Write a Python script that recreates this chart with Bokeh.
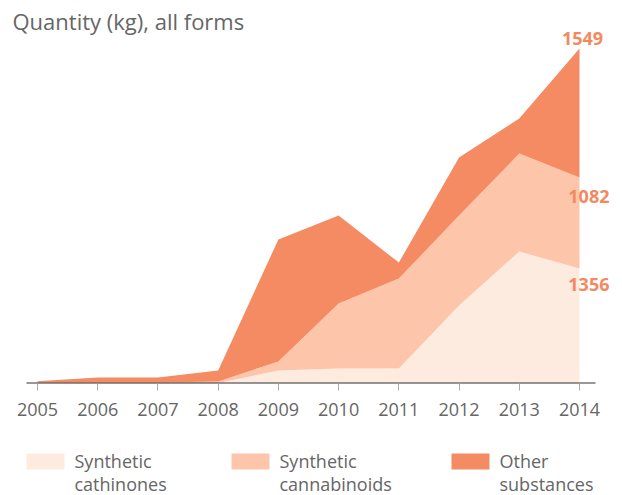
from bokeh.plotting import figure
from bokeh.models import ColumnDataSource, Range1d, FixedTicker, Label
from bokeh.layouts import column
from bokeh.embed import file_html
from bokeh.resources import INLINE
from bokeh.core.properties import value

# ---- data (kg) ----
years = [2005, 2006, 2007, 2008, 2009, 2010, 2011, 2012, 2013, 2014]
cathinones = [0, 0, 0, 2, 60, 69, 69, 361, 610, 532]
cannabinoids = [5, 5, 5, 7, 42, 301, 416, 416, 453, 421]
other = [5, 23, 23, 51, 564, 407, 74, 268, 162, 596]
legend_lines = [["Synthetic", "cathinones"], ["Synthetic", "cannabinoids"], ["Other", "substances"]]
end_labels = ["1356", "1082", "1549"]
colors = ["#fdebe0", "#fdc6ab", "#f48b63"]
label_color = "#f4895f"
title_text = "Quantity (kg), all forms"

FONT = "Open Sans"
W = 622
MAIN_H = 438
FRAME_H = 383
LEG_H = 57
PX_PER_YEAR = 60.222
X0 = 2005 - 37 / PX_PER_YEAR
X1 = 2014 + (W - 579) / PX_PER_YEAR
KG_PER_PX = 1549 / 335.0
TXT_SHIFT = 7  # correction for text baseline placement

src = ColumnDataSource(dict(year=years, cath=cathinones, cann=cannabinoids, oth=other))

p = figure(width=W, height=MAIN_H, output_backend="svg", toolbar_location=None,
           x_range=Range1d(X0, X1), y_range=Range1d(0, FRAME_H * KG_PER_PX),
           y_axis_location=None, min_border_left=0, min_border_right=0,
           min_border_top=0, min_border_bottom=MAIN_H - FRAME_H)
p.outline_line_color = None
p.grid.visible = False

p.varea_stack(["cath", "cann", "oth"], x="year", color=colors, source=src)

# baseline (axis line) spanning slightly beyond first/last year
p.segment(x0=[years[0] - 11 / PX_PER_YEAR], x1=[years[-1] + 16 / PX_PER_YEAR],
          y0=[0], y1=[0], line_color="#333333", line_width=2)

ax = p.xaxis[0]
ax.ticker = FixedTicker(ticks=years)
ax.axis_line_color = None
ax.minor_tick_line_color = None
ax.major_tick_in = 0
ax.major_tick_out = 7
ax.major_tick_line_color = "#aaaaaa"
ax.major_label_text_font = FONT
ax.major_label_text_font_size = "18px"
ax.major_label_text_color = "#666666"
ax.major_label_standoff = 12

# end labels at the 2014 stack tops
tops = []
acc = 0
for s in (cathinones, cannabinoids, other):
    acc += s[-1]
    tops.append(acc)
offsets = [(30, -23, "right"), (30, -26, "right"), (3, 3, "center")]
for t, txt, (xo, yo, al) in zip(tops, end_labels, offsets):
    lab = Label(x=years[-1], y=t, text=txt, text_align=al, text_baseline="alphabetic",
                x_offset=xo, y_offset=yo + TXT_SHIFT, text_font=FONT, text_font_size="18px",
                text_font_style="bold", text_color=label_color)
    p.add_layout(lab)

title = Label(x=12, y=FRAME_H - 27 + TXT_SHIFT, x_units="screen", y_units="screen",
              text=title_text, text_font=FONT, text_font_size="22px", text_color="#666666",
              text_baseline="alphabetic", text_align="left")
p.add_layout(title)

# ---- legend as its own small panel ----
lg = figure(width=W, height=LEG_H, output_backend="svg", toolbar_location=None,
            x_range=Range1d(0, W), y_range=Range1d(LEG_H, 0),
            x_axis_location=None, y_axis_location=None,
            min_border=0, min_border_left=0, min_border_right=0,
            min_border_top=0, min_border_bottom=0)
lg.outline_line_color = None
lg.grid.visible = False

lefts = [26, 231, 451]
sw = 38
lg.quad(left=lefts, right=[l + sw for l in lefts], top=[15] * 3, bottom=[31] * 3,
        color=colors, line_color=None)
tx, ty, tt = [], [], []
for l, lines in zip(lefts, legend_lines):
    for j, ln in enumerate(lines):
        tx.append(l + 48)
        ty.append(29 - TXT_SHIFT + 23 * j)
        tt.append(ln)
lg.text(x=tx, y=ty, text=tt, text_font=value(FONT), text_font_size="18px",
        text_color="#666666", text_baseline="alphabetic", text_align="left")

layout = column(p, lg, spacing=0)
open("out.html", "w").write(file_html(layout, INLINE))
